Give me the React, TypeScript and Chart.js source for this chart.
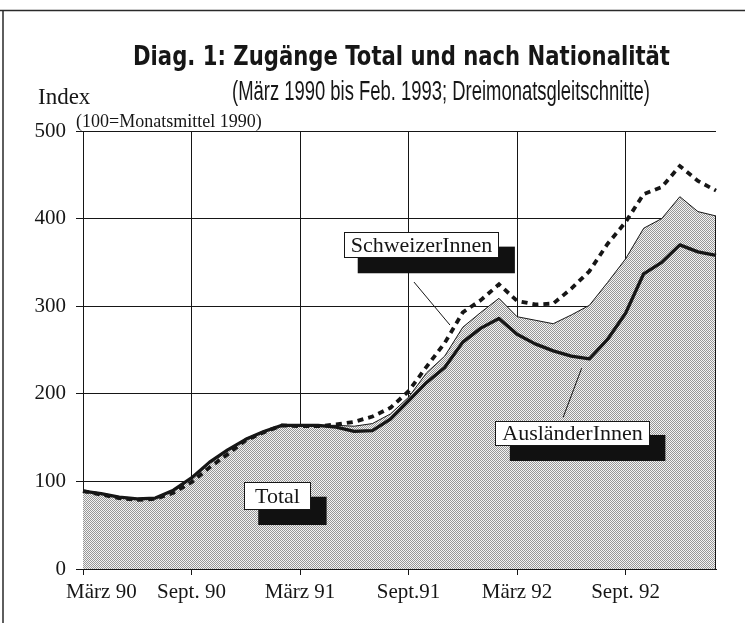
import React, { useEffect, useRef } from "react";
import { Chart, registerables } from "chart.js";

Chart.register(...registerables);

// ---- data ----
const months = [
  "03.1990", "04.1990", "05.1990", "06.1990", "07.1990", "08.1990", "09.1990", "10.1990", "11.1990", "12.1990",
  "01.1991", "02.1991", "03.1991", "04.1991", "05.1991", "06.1991", "07.1991", "08.1991", "09.1991", "10.1991",
  "11.1991", "12.1991", "01.1992", "02.1992", "03.1992", "04.1992", "05.1992", "06.1992", "07.1992", "08.1992",
  "09.1992", "10.1992", "11.1992", "12.1992", "01.1993", "02.1993",
];
const tickLabels = ["März 90", "Sept. 90", "März 91", "Sept.91", "März 92", "Sept. 92"];
const totalValues = [
  89, 86, 82, 80, 81, 90, 103, 121, 135, 149, 157, 164, 164, 164, 164, 163, 166, 177,
  196, 224, 243, 276, 293, 309, 288, 284, 280, 290, 301, 327, 354, 389, 400, 425, 408, 403,
];
const swissValues = [
  89, 85, 81, 79, 80, 87, 99, 116, 131, 147, 156, 164, 163, 163, 165, 168, 174, 184,
  203, 231, 258, 293, 307, 325, 306, 302, 303, 320, 340, 371, 396, 428, 436, 460, 443, 432,
];
const foreignValues = [
  89, 86, 82, 80, 81, 90, 104, 122, 136, 148, 157, 164, 164, 164, 162, 157, 158, 171,
  192, 213, 230, 259, 275, 286, 268, 257, 249, 243, 240, 262, 292, 337, 350, 370, 362, 358,
];
const seriesNames = ["Total", "SchweizerInnen", "AusländerInnen"];

const titleText = "Diag. 1: Zugänge Total und nach Nationalität";
const subtitleText = "(März 1990 bis Feb. 1993; Dreimonatsgleitschnitte)";
const yAxisText = "Index";
const baseText = "(100=Monatsmittel 1990)";

// annotation boxes in data units: [x1, yTop, x2, yBottom]
const annotations = [
  { text: "SchweizerInnen", box: [14.41, 384.4, 22.96, 355.8], shadow: [15.19, 368, 23.88, 337.6], pointer: [18.3, 327.6, 20.29, 278.5] },
  { text: "Total", box: [8.92, 99, 12.55, 68.2], shadow: [9.69, 82.5, 13.47, 50.2], pointer: null },
  { text: "AusländerInnen", box: [22.78, 169.3, 31.3, 141.6], shadow: [23.6, 153, 32.2, 123.3], pointer: [26.55, 173.2, 27.57, 229.1] },
];

const INK = "#161616";
const SERIF = "'Liberation Serif', 'Times New Roman', serif";
const SANS = "'Liberation Sans', Arial, sans-serif";
const HEAVY = "'DejaVu Sans', 'Liberation Sans', sans-serif";

function fitText(ctx: CanvasRenderingContext2D, text: string, font: string, xRight: number, baseline: number, width: number) {
  ctx.save();
  ctx.font = font;
  const w = ctx.measureText(text).width;
  ctx.translate(xRight - width, baseline);
  ctx.scale(width / w, 1);
  ctx.textAlign = "left";
  ctx.textBaseline = "alphabetic";
  ctx.fillStyle = INK;
  ctx.fillText(text, 0, 0);
  ctx.restore();
}

const decorPlugin = {
  id: "decor",
  beforeDraw(chart: any) {
    const ctx = chart.ctx as CanvasRenderingContext2D;
    ctx.save();
    ctx.fillStyle = "#ffffff";
    ctx.fillRect(0, 0, chart.width, chart.height);
    ctx.strokeStyle = "#2a2a2a";
    ctx.lineWidth = 1.5;
    ctx.beginPath();
    ctx.moveTo(0, 10.5);
    ctx.lineTo(chart.width, 10.5);
    ctx.moveTo(3, 10.5);
    ctx.lineTo(3, chart.height);
    ctx.stroke();
    ctx.restore();
  },
  afterDatasetsDraw(chart: any) {
    const ctx = chart.ctx as CanvasRenderingContext2D;
    const xs = chart.scales.x;
    const ys = chart.scales.y;
    const px = (v: number) => xs.getPixelForValue(v);
    const py = (v: number) => ys.getPixelForValue(v);
    ctx.save();
    // right edge of the total area
    const last = totalValues.length - 1;
    ctx.strokeStyle = INK;
    ctx.lineWidth = 1;
    ctx.beginPath();
    ctx.moveTo(Math.round(px(last)) - 0.5, py(totalValues[last]));
    ctx.lineTo(Math.round(px(last)) - 0.5, py(0));
    ctx.stroke();

    for (const a of annotations) {
      if (a.pointer) {
        ctx.strokeStyle = INK;
        ctx.lineWidth = 1;
        ctx.beginPath();
        ctx.moveTo(px(a.pointer[0]), py(a.pointer[1]));
        ctx.lineTo(px(a.pointer[2]), py(a.pointer[3]));
        ctx.stroke();
      }
      const [sx1, sy1, sx2, sy2] = a.shadow;
      ctx.fillStyle = "#111111";
      ctx.fillRect(px(sx1), py(sy1), px(sx2) - px(sx1), py(sy2) - py(sy1));
      const [bx1, by1, bx2, by2] = a.box;
      const x1 = Math.round(px(bx1)) + 0.5;
      const y1 = Math.round(py(by1)) + 0.5;
      const x2 = Math.round(px(bx2)) + 0.5;
      const y2 = Math.round(py(by2)) + 0.5;
      ctx.fillStyle = "#ffffff";
      ctx.fillRect(x1, y1, x2 - x1, y2 - y1);
      ctx.strokeStyle = INK;
      ctx.lineWidth = 1;
      ctx.strokeRect(x1, y1, x2 - x1, y2 - y1);
      ctx.fillStyle = INK;
      ctx.font = `22px ${SERIF}`;
      ctx.textAlign = "center";
      ctx.textBaseline = "middle";
      ctx.fillText(a.text, (x1 + x2) / 2, (y1 + y2) / 2 + 1);
    }
    ctx.restore();
  },
  afterDraw(chart: any) {
    const ctx = chart.ctx as CanvasRenderingContext2D;
    fitText(ctx, titleText, `bold 27px ${HEAVY}`, 670, 65, 537);
    fitText(ctx, subtitleText, `27px ${SANS}`, 650, 100, 418);
    ctx.save();
    ctx.fillStyle = INK;
    ctx.textAlign = "left";
    ctx.textBaseline = "alphabetic";
    ctx.font = `23px ${SERIF}`;
    ctx.fillText(yAxisText, 38, 104);
    ctx.font = `18px ${SERIF}`;
    ctx.fillText(baseText, 76, 127);
    ctx.restore();
  },
};

function makePattern(): CanvasPattern | string {
  const tile = document.createElement("canvas");
  tile.width = 2;
  tile.height = 2;
  const t = tile.getContext("2d");
  if (!t) return "#c6c6c6";
  t.fillStyle = "#f4f4f4";
  t.fillRect(0, 0, 2, 2);
  t.fillStyle = "#979797";
  t.fillRect(0, 0, 1, 1);
  t.fillRect(1, 1, 1, 1);
  const p = t.createPattern(tile, "repeat");
  return p || "#c6c6c6";
}

export default function App() {
  const ref = useRef<HTMLCanvasElement | null>(null);

  useEffect(() => {
    if (!ref.current) return;
    const pattern = makePattern();
    const chart = new Chart(ref.current, {
      type: "line",
      data: {
        labels: months,
        datasets: [
          {
            label: seriesNames[2],
            data: foreignValues,
            borderColor: INK,
            borderWidth: 3.3,
            borderJoinStyle: "round",
            pointRadius: 0,
            fill: false,
            tension: 0,
            order: 1,
          },
          {
            label: seriesNames[1],
            data: swissValues,
            borderColor: INK,
            borderWidth: 3.8,
            borderDash: [6, 5],
            pointRadius: 0,
            fill: false,
            tension: 0,
            order: 2,
          },
          {
            label: seriesNames[0],
            data: totalValues,
            borderColor: INK,
            borderWidth: 1,
            backgroundColor: pattern as any,
            pointRadius: 0,
            fill: "origin",
            tension: 0,
            order: 3,
          },
        ],
      },
      options: {
        responsive: false,
        devicePixelRatio: 1,
        animation: false,
        events: [],
        layout: { padding: { left: 0, right: 29, top: 131, bottom: 0 } },
        plugins: {
          legend: { display: false },
          tooltip: { enabled: false },
          title: { display: false },
        },
        scales: {
          x: {
            type: "category",
            offset: false,
            afterFit: (s: any) => {
              s.height = 54;
            },
            border: { display: true, color: INK, width: 1 },
            grid: {
              color: (c: any) => (c.index % 6 === 0 && c.index > 0 ? INK : "rgba(0,0,0,0)"),
              tickColor: (c: any) => (c.index % 6 === 0 ? INK : "rgba(0,0,0,0)"),
              tickLength: 6,
              lineWidth: 1,
              drawOnChartArea: true,
            },
            ticks: {
              autoSkip: false,
              maxRotation: 0,
              minRotation: 0,
              padding: 5,
              color: INK,
              font: { family: SERIF, size: 21 },
              callback: (_v: any, i: number) =>
                i % 6 === 0 ? (i === 0 ? "       " + tickLabels[0] : tickLabels[i / 6]) : "",
            },
          },
          y: {
            type: "linear",
            min: 0,
            max: 500,
            afterFit: (s: any) => {
              s.width = 83;
            },
            border: { display: true, color: INK, width: 1 },
            grid: {
              color: INK,
              tickColor: INK,
              tickLength: 7,
              lineWidth: 1,
            },
            ticks: {
              stepSize: 100,
              padding: 10,
              color: INK,
              font: { family: SERIF, size: 21 },
            },
          },
        },
      },
      plugins: [decorPlugin],
    });
    return () => chart.destroy();
  }, []);

  return (
    <div style={{ position: "fixed", left: 0, top: 0, width: 745, height: 623, background: "#fff" }}>
      <canvas ref={ref} width={745} height={623} style={{ display: "block", width: 745, height: 623 }} />
    </div>
  );
}
